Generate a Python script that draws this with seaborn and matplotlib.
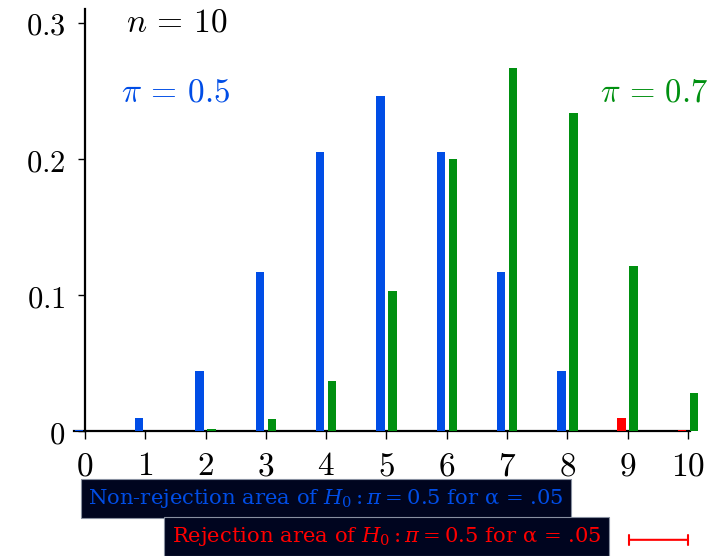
import matplotlib
matplotlib.use("Agg")
import matplotlib.pyplot as plt
import seaborn as sns
import pandas as pd

# binomial probabilities, n = 10
k = list(range(11))
p_null = [0.001, 0.0098, 0.0439, 0.1172, 0.2051, 0.2461, 0.2051, 0.1172, 0.0439, 0.0098, 0.001]
p_alt = [0.00001, 0.0001, 0.0014, 0.009, 0.0368, 0.1029, 0.2001, 0.2668, 0.2335, 0.1211, 0.0282]
pi_labels = ["0.5", "0.7"]
rejection_k = [9, 10]

blue = "#004de6"
green = "#009010"
red = "#ff0000"
navy = "#00051f"

sns.set_style("ticks", {"axes.edgecolor": "black", "xtick.color": "black",
                        "ytick.color": "black", "text.color": "black"})
plt.rcParams["font.family"] = ["DejaVu Serif"]
plt.rcParams["mathtext.fontset"] = "cm"

df = pd.concat([
    pd.DataFrame({"k": k, "p": p_null, "pi": pi_labels[0]}),
    pd.DataFrame({"k": k, "p": p_alt, "pi": pi_labels[1]}),
])

fig = plt.figure(figsize=(7.14, 5.56), dpi=100)
ax = fig.add_axes([0.1038, 0.2248, 0.8623, 0.7583])

sns.barplot(data=df, x="k", y="p", hue="pi", native_scale=True, dodge=True,
            width=0.4, gap=0.3, palette=[blue, green], saturation=1, errorbar=None,
            legend=False, linewidth=0, ax=ax)

for bar, kk in zip(ax.containers[0], k):
    if kk in rejection_k:
        bar.set_facecolor(red)
for p in ax.patches:
    p.set_clip_on(False)
    p.set_zorder(3)

ax.set_xlim(-0.18, 10.03)
ax.set_ylim(0, 0.31)
ax.spines["left"].set_position(("data", 0))
ax.spines["top"].set_visible(False)
ax.spines["right"].set_visible(False)
for s in ["left", "bottom"]:
    ax.spines[s].set_linewidth(1.6)
    ax.spines[s].set_color("black")

ax.set_xticks(k)
ax.set_xticklabels([f"${v}$" for v in k], fontsize=24, color="black")
ax.set_yticks([0, 0.1, 0.2, 0.3])
ax.set_yticklabels(["$0$", "$0.1$", "$0.2$", "$0.3$"], fontsize=22, color="black")
ax.tick_params(axis="x", length=6, width=1, pad=8, colors="black")
ax.tick_params(axis="y", length=5, width=1, pad=9, colors="black")
ax.set_xlabel("")
ax.set_ylabel("")

ax.text(1.52, 0.30, r"$n\,=\,10$", fontsize=24, color="black", ha="center", va="center")
ax.text(1.5, 0.249, r"$\pi\,=\,0.5$", fontsize=24, color=blue, ha="center", va="center")
ax.text(10.34, 0.249, r"$\pi\,=\,0.7$", fontsize=23.5, color=green, ha="right", va="center")

fig.text(326 / 714, 1 - 498.5 / 556, r"Non-rejection area of $H_0 : \pi = 0.5$ for α = .05",
         fontsize=15.2, color=blue, ha="center", va="center", math_fontfamily="dejavuserif",
         bbox=dict(boxstyle="square,pad=0.36", fc=navy, ec="#8890a0", lw=0.8))
fig.text(386.5 / 714, 1 - 536.5 / 556, r"Rejection area of $H_0 : \pi = 0.5$ for α = .05",
         fontsize=15.2, color=red, ha="center", va="center", math_fontfamily="dejavuserif",
         bbox=dict(boxstyle="square,pad=0.36", fc=navy, ec="#8890a0", lw=0.8))

ax.annotate("", xy=(10, -0.08), xytext=(9.03, -0.08), annotation_clip=False,
            arrowprops=dict(arrowstyle="|-|,widthA=0.35,widthB=0.35", color=red, lw=1.5,
                            shrinkA=0, shrinkB=0))

fig.savefig("out.png", dpi=100)
